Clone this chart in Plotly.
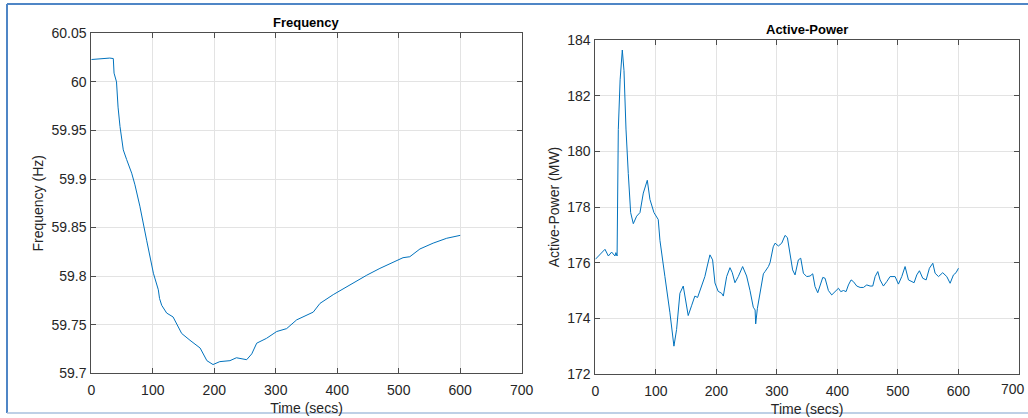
import plotly.graph_objects as go

# ---------------- data ----------------
freq_time = [0, 10, 20, 30, 35.8, 37, 41, 43.5, 46.7, 52, 57.5, 65.7, 71, 79, 90, 101, 109, 111,
             114.5, 122.6, 133, 139, 147, 160.5, 177, 188, 198, 209, 225.5, 236, 252.7, 261, 269,
             285, 301.5, 317.7, 334, 361, 372, 393.5, 420.6, 448, 469.4, 485.7, 507, 518, 534.5,
             556, 578, 600]
freq_hz = [60.023, 60.0235, 60.024, 60.0245, 60.024, 60.009, 60.0, 59.974, 59.954, 59.930, 59.920,
           59.906, 59.894, 59.872, 59.837, 59.803, 59.786, 59.777, 59.770, 59.762, 59.758, 59.751,
           59.741, 59.734, 59.726, 59.713, 59.709, 59.712, 59.713, 59.716, 59.714, 59.720, 59.731,
           59.736, 59.743, 59.746, 59.755, 59.763, 59.772, 59.781, 59.791, 59.801, 59.808, 59.813,
           59.819, 59.820, 59.828, 59.834, 59.839, 59.842]

power_time = [0, 7.7, 16, 21.6, 27, 32.5, 34, 36, 38, 41, 44.6, 47.4, 50.7, 54.5, 58.4, 62.8, 68.3,
              73.8, 79.3, 85.9, 90.3, 96.9, 104, 106.8, 111.2, 115, 123.3, 129.9, 134.3, 139.8,
              145.3, 149, 153.5, 159, 164.5, 169, 175.6, 181, 185, 189.4, 193.8, 197.7, 203, 208.7,
              211.5, 217, 222.5, 226.3, 230.7, 236.2, 243.4, 250, 255.6, 261, 264, 265, 267.8, 272,
              277.7, 280.4, 286, 288.7, 294, 297, 302.5, 308, 313.5, 317.4, 321.8, 326, 330, 335.5,
              339.4, 343.8, 349.3, 354.8, 359.2, 363, 367.5, 371.3, 375.8, 379.6, 385.1, 390.6, 396,
              401.7, 405.5, 410, 414.3, 418.2, 422.6, 426.4, 432, 437.5, 443, 448.5, 454, 458.4,
              462.3, 466.7, 470.5, 476, 481.5, 487, 495.3, 500.8, 506.3, 511.8, 517.4, 522.9, 526.7,
              531.1, 535.5, 541, 546.6, 552, 557.6, 561.4, 567, 574, 580.7, 586.2, 591.7, 596, 600]
power_mw = [176.12, 176.3, 176.48, 176.24, 176.38, 176.24, 176.36, 176.24, 180.78, 182.57, 183.64,
            182.9, 180.8, 179.2, 177.8, 177.4, 177.67, 177.8, 178.5, 178.96, 178.27, 177.8, 177.55,
            176.8, 176.0, 175.5, 174.2, 173.0, 173.6, 174.9, 175.16, 174.6, 174.1, 174.45, 174.8,
            174.75, 175.2, 175.5, 175.88, 176.28, 176.1, 175.27, 174.97, 174.9, 174.8, 175.5, 175.82,
            175.64, 175.28, 175.5, 175.86, 175.52, 175.0, 174.4, 174.3, 173.8, 174.36, 174.9, 175.6,
            175.68, 175.86, 176.0, 176.57, 176.7, 176.6, 176.7, 176.98, 176.9, 176.33, 175.74,
            175.56, 176.1, 176.16, 175.62, 175.5, 175.52, 175.6, 175.14, 174.92, 175.14, 175.47,
            175.44, 175.0, 174.84, 174.96, 175.08, 174.96, 175.0, 174.96, 175.2, 175.38, 175.32,
            175.16, 175.11, 175.11, 175.2, 175.16, 175.16, 175.5, 175.68, 175.38, 175.16, 175.32,
            175.5, 175.5, 175.23, 175.5, 175.86, 175.38, 175.32, 175.28, 175.56, 175.71, 175.44,
            175.38, 175.8, 175.98, 175.62, 175.5, 175.64, 175.5, 175.26, 175.56, 175.64, 175.8]

time_ticks = [0, 100, 200, 300, 400, 500, 600, 700]
time_labels = ["0", "100", "200", "300", "400", "500", "600", "700"]
freq_ticks = [59.7, 59.75, 59.8, 59.85, 59.9, 59.95, 60.0, 60.05]
freq_labels = ["59.7", "59.75", "59.8", "59.85", "59.9", "59.95", "60", "60.05"]
power_ticks = [172, 174, 176, 178, 180, 182, 184]
power_labels = ["172", "174", "176", "178", "180", "182", "184"]

# ---------------- figure ----------------
W, H = 1028, 418
FONT = "Liberation Sans, Arial, Helvetica, sans-serif"
TXT = "#262626"
LINE_COLOR = "#0072BD"


def px_x(p):
    return p / W


def px_y(p):
    return 1 - p / H


fig = go.Figure()
fig.add_trace(go.Scatter(x=freq_time, y=freq_hz, mode="lines",
                         line=dict(color=LINE_COLOR, width=1), xaxis="x", yaxis="y",
                         showlegend=False))
fig.add_trace(go.Scatter(x=power_time, y=power_mw, mode="lines",
                         line=dict(color=LINE_COLOR, width=1), xaxis="x2", yaxis="y2",
                         showlegend=False))

axis_common = dict(
    showline=True, linecolor="#4d4d4d", linewidth=1, mirror="ticks",
    ticks="inside", ticklen=5, tickcolor="#4d4d4d", tickwidth=1,
    showgrid=True, gridcolor="#e3e3e3", gridwidth=1, zeroline=False,
    tickfont=dict(family=FONT, size=14, color=TXT),
    title_font=dict(family=FONT, size=14, color=TXT),
    automargin=False, fixedrange=True,
)

# last x tick label of the right panel sits at the page edge (plotly would drop it),
# so it is drawn as a text annotation kept just inside the page
edge_label_annotations = [
    dict(text=time_labels[-1], x=1, xref="paper", y=px_y(389), yref="paper",
         showarrow=False, xanchor="right", yanchor="middle", xshift=-1,
         font=dict(family=FONT, size=14, color=TXT))
]

fig.update_layout(
    width=W, height=H,
    margin=dict(l=0, r=0, t=0, b=0),
    paper_bgcolor="white", plot_bgcolor="white",
    font=dict(family=FONT, color=TXT),
    xaxis=dict(axis_common, domain=[px_x(91.3), px_x(521.7)], range=[0, 700],
               tickvals=time_ticks, ticktext=time_labels, anchor="y", ticklabelstandoff=4,
               title=dict(text="Time (secs)", standoff=6)),
    yaxis=dict(axis_common, domain=[px_y(373.3), px_y(33.3)], range=[59.7, 60.05],
               tickvals=freq_ticks, ticktext=freq_labels, anchor="x", ticklabelstandoff=1,
               title=dict(text="Frequency (Hz)", standoff=4)),
    xaxis2=dict(axis_common, domain=[px_x(595.3), px_x(1019)], range=[0, 700],
                tickvals=time_ticks[:-1], ticktext=time_labels[:-1], anchor="y2",
                ticklabelstandoff=4, title=dict(text="Time (secs)", standoff=6)),
    yaxis2=dict(axis_common, domain=[px_y(374), px_y(40)], range=[172, 184],
                tickvals=power_ticks, ticktext=power_labels, anchor="x2", ticklabelstandoff=1,
                title=dict(text="Active-Power (MW)", standoff=4)),
    annotations=[
        dict(text="<b>Frequency</b>", x=px_x(306.5), y=px_y(22.5), xref="paper", yref="paper",
             showarrow=False, xanchor="center", yanchor="middle",
             font=dict(family=FONT, size=13, color="#000000")),
        dict(text="<b>Active-Power</b>", x=px_x(807), y=px_y(29.5), xref="paper", yref="paper",
             showarrow=False, xanchor="center", yanchor="middle",
             font=dict(family=FONT, size=13, color="#000000")),
    ] + edge_label_annotations,
    shapes=[
        dict(type="line", xref="paper", yref="paper", x0=px_x(7), x1=1, y0=px_y(4), y1=px_y(4),
             line=dict(color="#4f86c6", width=2)),
        dict(type="line", xref="paper", yref="paper", x0=px_x(7), x1=px_x(7), y0=px_y(4),
             y1=px_y(413), line=dict(color="#4f86c6", width=2)),
        dict(type="line", xref="paper", yref="paper", x0=px_x(7), x1=1, y0=px_y(413),
             y1=px_y(413), line=dict(color="#a9c1de", width=1.5)),
    ],
)

fig.write_html("out.html", config={"displayModeBar": False},
               post_script="document.body.style.margin='0';document.body.style.overflow='hidden';")
